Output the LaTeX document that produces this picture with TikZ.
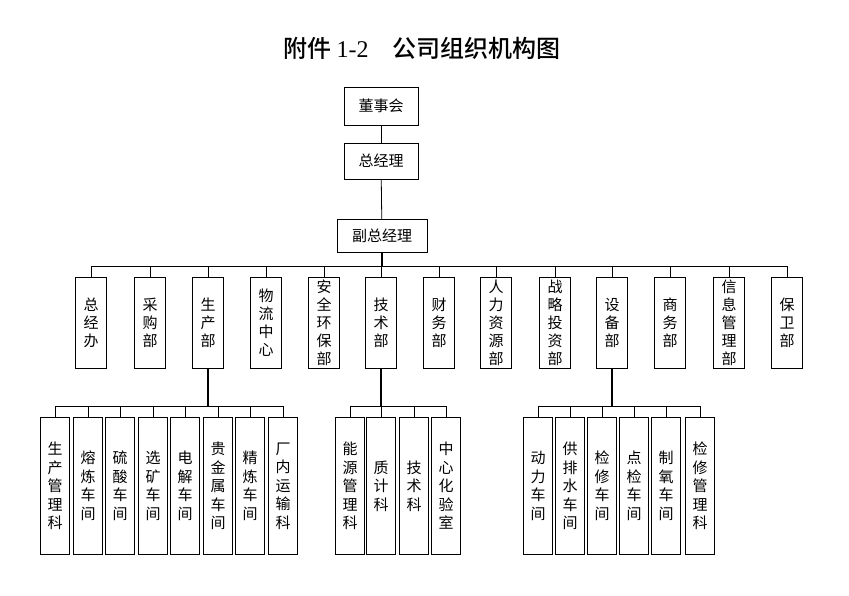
\documentclass[tikz,border=0pt]{standalone}
\usepackage{fontspec}
\setmainfont{Liberation Serif}
\newfontfamily\cjk{Noto Sans CJK SC}
\newfontfamily\cjkb{Noto Sans CJK SC Medium}
\begin{document}
\begin{tikzpicture}[x=1pt,y=-1pt,
  bx/.style={draw,line width=0.8pt,font=\cjk\fontsize{15}{17}\selectfont,inner sep=0pt},
  vb/.style={bx,minimum width=31pt,minimum height=91pt,align=center,font=\cjk\fontsize{15}{18}\selectfont},
  lb/.style={bx,minimum width=29pt,minimum height=137pt,align=center,anchor=north,font=\cjk\fontsize{15}{18.5}\selectfont},
  ln/.style={line width=0.8pt},
  tk/.style={line width=1.8pt}]
\useasboundingbox (0,0) rectangle (849,595);
\node (title) at (422,48) {\fontsize{24}{28}\selectfont\cjkb 附件 \rmfamily 1-2\cjkb\quad 公司组织机构图};
\node[bx,minimum width=74pt,minimum height=38pt] (b) at (381,106) {董事会};
\node[bx,minimum width=74pt,minimum height=36pt] (g) at (381,161) {总经理};
\node[bx,minimum width=90pt,minimum height=33pt] (v) at (382,236) {副总经理};
\draw[ln] (b) -- (g);
\draw[ln] (g) -- (v);
\coordinate (bus) at (382,266);
\draw[tk] (v.south) -- (bus);
\draw[ln] (91,266) -- (787,266);
\foreach \x/\t/\n in {91/总\\经\\办/d1,150/采\\购\\部/d2,208/生\\产\\部/d3,266/物\\流\\中\\心/d4,324/安\\全\\环\\保\\部/d5,381/技\\术\\部/d6,439/财\\务\\部/d7,496/人\\力\\资\\源\\部/d8,555/战\\略\\投\\资\\部/d9,612/设\\备\\部/d10,670/商\\务\\部/d11,729/信\\息\\管\\理\\部/d12,787/保\\卫\\部/d13}{
  \node[vb] (\n) at (\x,323) {\t};
  \draw[ln] (\x,266) -- (\n.north);
}
\draw[tk] (d3.south) -- (208,406);
\draw[ln] (55,406) -- (283,406);
\foreach \x/\t/\n in {55/生\\产\\管\\理\\科/p1,88/熔\\炼\\车\\间/p2,120/硫\\酸\\车\\间/p3,153/选\\矿\\车\\间/p4,185/电\\解\\车\\间/p5,218/贵\\金\\属\\车\\间/p6,250/精\\炼\\车\\间/p7,283/厂\\内\\运\\输\\科/p8}{
  \node[lb] (\n) at (\x,417) {\t};
  \draw[ln] (\x,406) -- (\n.north);
}
\draw[tk] (d6.south) -- (381,406);
\draw[ln] (350,406) -- (446,406);
\foreach \x/\t/\n in {350/能\\源\\管\\理\\科/t1,381/质\\计\\科/t2,414/技\\术\\科/t3,446/中\\心\\化\\验\\室/t4}{
  \node[lb] (\n) at (\x,417) {\t};
  \draw[ln] (\x,406) -- (\n.north);
}
\draw[tk] (d10.south) -- (612,406);
\draw[ln] (538,406) -- (700,406);
\foreach \x/\t/\n in {538/动\\力\\车\\间/e1,570/供\\排\\水\\车\\间/e2,602/检\\修\\车\\间/e3,634/点\\检\\车\\间/e4,666/制\\氧\\车\\间/e5,700/检\\修\\管\\理\\科/e6}{
  \node[lb] (\n) at (\x,417) {\t};
  \draw[ln] (\x,406) -- (\n.north);
}
\end{tikzpicture}
\end{document}
